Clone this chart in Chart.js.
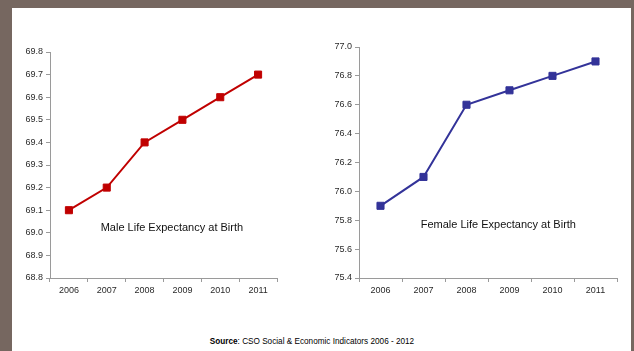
<!DOCTYPE html>
<html>
<head>
<meta charset="utf-8">
<script src="https://cdn.jsdelivr.net/npm/chart.js@4/dist/chart.umd.min.js"></script>
<style>
  html, body { margin: 0; padding: 0; }
  body { width: 634px; height: 351px; background: #766760; position: relative; overflow: hidden; }
  #sheet { position: absolute; left: 12px; top: 8px; width: 619px; height: 343px; background: #ffffff; }
  #male { position: absolute; left: 0; top: 0; }
  #female { position: absolute; left: 310px; top: 0; }
  #source { position: absolute; left: 0; width: 624px; top: 337px; text-align: center;
            font: 8.2px "Liberation Sans", Arial, sans-serif; color: #000; }
</style>
</head>
<body>
<div id="sheet"></div>
<canvas id="male" width="310" height="300"></canvas>
<canvas id="female" width="324" height="300"></canvas>
<div id="source"><b>Source</b>: CSO Social &amp; Economic Indicators 2006 - 2012</div>
<script>
// Life expectancy at birth, by year
const years = ['2006', '2007', '2008', '2009', '2010', '2011'];
const maleLifeExpectancy = [69.1, 69.2, 69.4, 69.5, 69.6, 69.7];
const femaleLifeExpectancy = [75.9, 76.1, 76.6, 76.7, 76.8, 76.9];

const maleAxis = { min: 68.8, max: 69.8, step: 0.1 };
const femaleAxis = { min: 75.4, max: 77.0, step: 0.2 };

const FONT = '"Liberation Sans", Arial, sans-serif';
const AXIS_GREY = '#9a9a9a';

// Caption drawn inside the plot area
const captionPlugin = {
  id: 'caption',
  afterDraw(chart, args, opts) {
    const a = chart.chartArea;
    const ctx = chart.ctx;
    ctx.save();
    ctx.font = '11px ' + FONT;
    ctx.fillStyle = '#111';
    ctx.textAlign = 'center';
    ctx.textBaseline = 'middle';
    ctx.fillText(opts.text, a.left + opts.fx * (a.right - a.left), a.top + opts.fy * (a.bottom - a.top));
    ctx.restore();
  }
};

function makeChart(id, values, axis, colour, yWidth, padding, caption) {
  return new Chart(document.getElementById(id), {
    type: 'line',
    data: {
      labels: years,
      datasets: [{
        data: values,
        borderColor: colour,
        backgroundColor: colour,
        borderWidth: 2,
        pointStyle: 'rect',
        pointRadius: 5,
        pointBorderWidth: 1,
        tension: 0,
        fill: false
      }]
    },
    options: {
      responsive: false,
      animation: false,
      layout: { padding: padding },
      plugins: {
        legend: { display: false },
        tooltip: { enabled: false },
        caption: caption
      },
      scales: {
        x: {
          offset: true,
          grid: { display: true, drawOnChartArea: false, drawTicks: true, tickLength: 4, color: AXIS_GREY, offset: true },
          border: { display: true, color: AXIS_GREY, width: 1 },
          ticks: { font: { family: FONT, size: 9 }, color: '#2a2a2a', padding: 3, maxRotation: 0 },
          afterFit(scale) { scale.height = 22; }
        },
        y: {
          min: axis.min,
          max: axis.max,
          grid: { display: true, drawOnChartArea: false, drawTicks: true, tickLength: 4, color: AXIS_GREY },
          border: { display: true, color: AXIS_GREY, width: 1 },
          ticks: {
            stepSize: axis.step,
            font: { family: FONT, size: 9 },
            color: '#2a2a2a',
            padding: 3,
            callback: v => Number(v).toFixed(1)
          },
          afterFit(scale) { scale.width = yWidth; }
        }
      }
    },
    plugins: [captionPlugin]
  });
}

makeChart('male', maleLifeExpectancy, maleAxis, '#c00000', 40,
  { left: 10, right: 33, top: 52, bottom: 0 },
  { text: 'Male Life Expectancy at Birth', fx: 0.537, fy: 0.78 });

makeChart('female', femaleLifeExpectancy, femaleAxis, '#333399', 39,
  { left: 10, right: 17, top: 47, bottom: 0 },
  { text: 'Female Life Expectancy at Birth', fx: 0.54, fy: 0.77 });
</script>
</body>
</html>
